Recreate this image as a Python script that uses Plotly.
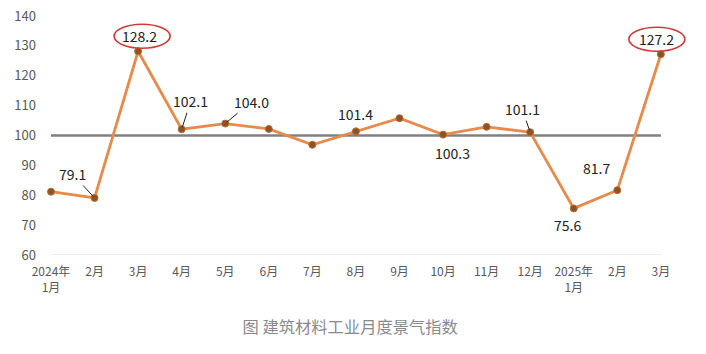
import plotly.graph_objects as go

categories = ["2024年<br>1月", "2月", "3月", "4月", "5月", "6月", "7月", "8月", "9月",
              "10月", "11月", "12月", "2025年<br>1月", "2月", "3月"]
values = [81.2, 79.1, 128.2, 102.1, 104.0, 102.2, 96.9, 101.4, 105.8,
          100.3, 102.9, 101.1, 75.6, 81.7, 127.2]
baseline = 100
axis_floor = 60
y_ticks = [60, 70, 80, 90, 100, 110, 120, 130, 140]
caption = "图 建筑材料工业月度景气指数"

# labels with leader lines: index -> (ax, ay) pixel offsets of the text
arrow_labels = {1: (-22, -24), 3: (9, -28), 4: (26, -22), 11: (-8, -23)}
# plain labels: index -> (xshift, yshift) pixel offsets
plain_labels = {2: (1, 15), 7: (0, 17), 9: (9, -18), 12: (-6, -17),
                13: (-21, 22), 14: (-4, 15)}
# circled labels: index -> horizontal pixel offset of ellipse centre
circled = {2: 4, 14: -4}

x_idx = list(range(len(categories)))
n_last = len(categories) - 1

fig = go.Figure()
fig.add_trace(go.Scatter(
    x=x_idx, y=[axis_floor] * len(x_idx), mode="lines",
    line=dict(color="#D9D9D9", width=1.2), hoverinfo="skip", showlegend=False))
fig.add_trace(go.Scatter(
    x=x_idx, y=[baseline] * len(x_idx), mode="lines",
    line=dict(color="#808080", width=2.6), hoverinfo="skip", showlegend=False))
fig.add_trace(go.Scatter(
    x=x_idx, y=values, mode="lines+markers", cliponaxis=False,
    line=dict(color="#E68B4B", width=2.8),
    marker=dict(size=7, color="#8A5526", line=dict(color="#C06A2C", width=1)),
    showlegend=False))

font_fam = "Noto Sans CJK SC, Noto Sans, sans-serif"
annotations = []
for i, (ax, ay) in arrow_labels.items():
    annotations.append(dict(
        x=i, y=values[i], xref="x", yref="y", text=f"{values[i]:.1f}",
        showarrow=True, arrowhead=0, arrowwidth=1, arrowcolor="#222222",
        ax=ax, ay=ay, standoff=2,
        font=dict(family=font_fam, size=14, color="#222222")))
for i, (xs, ys) in plain_labels.items():
    annotations.append(dict(
        x=i, y=values[i], xref="x", yref="y", text=f"{values[i]:.1f}",
        showarrow=False, xshift=xs, yshift=ys,
        font=dict(family=font_fam, size=14, color="#222222")))

shapes = []
for i, dx in circled.items():
    shapes.append(dict(
        type="circle", xref="x", yref="y", xsizemode="pixel", ysizemode="pixel",
        xanchor=i, yanchor=values[i], x0=dx - 28, x1=dx + 28, y0=3, y1=27,
        line=dict(color="#D03A3A", width=1.6)))

fig.update_layout(
    width=706, height=354,
    margin=dict(l=51, r=19, t=16, b=99),
    paper_bgcolor="white", plot_bgcolor="white",
    annotations=annotations, shapes=shapes,
    title=dict(text=caption, xref="container", yref="container",
               x=0.496, y=0.076, xanchor="center", yanchor="middle",
               font=dict(family=font_fam, size=16.3, color="#8A8A8A")),
    xaxis=dict(
        tickmode="array", tickvals=x_idx, ticktext=categories,
        range=[0, n_last + 0.6], showgrid=False, zeroline=False, showline=False,
        ticks="", ticklabelstandoff=8, automargin=False,
        tickfont=dict(family=font_fam, size=12, color="#595959")),
    yaxis=dict(
        range=[60, 140], tickvals=y_ticks, showgrid=False, zeroline=False,
        showline=False, ticks="", ticklabelstandoff=14, automargin=False,
        tickfont=dict(family=font_fam, size=13, color="#595959")),
)

fig.write_html("out.html")
